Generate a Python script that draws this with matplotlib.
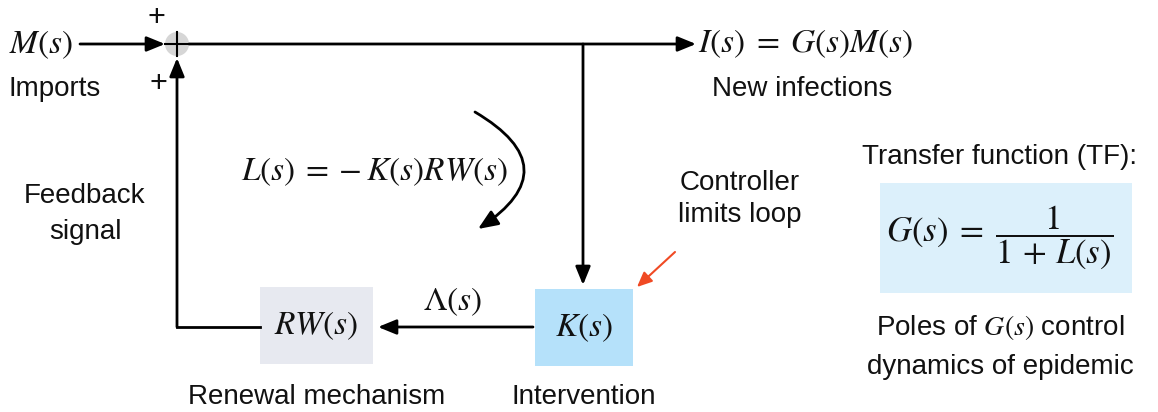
import matplotlib.pyplot as plt
from matplotlib.patches import Rectangle, Circle, FancyArrowPatch

plt.rcParams['font.family'] = ['Liberation Sans', 'DejaVu Sans']
plt.rcParams['mathtext.fontset'] = 'stix'

# labels of the diagram
block_names = ['$RW(s)$', '$K(s)$']
block_captions = ['Renewal mechanism', 'Intervention']
block_colors = ['#e7e9f0', '#b5e1fa']
input_label = '$M(s)$'
output_label = '$I(s)\\;=\\;G(s)M(s)$'
loop_label = '$L(s)\\:=\\:-\\:K(s)RW(s)$'
tf_label = '$G(s)\\;=\\;\\dfrac{1}{1\\,+\\,L(s)}$'

W, H = 1158, 412
fig = plt.figure(figsize=(W / 100, H / 100), dpi=100)
ax = fig.add_axes([0, 0, 1, 1])
ax.set_xlim(0, W)
ax.set_ylim(H, 0)
ax.axis('off')

txt = dict(fontsize=20, color='#111111', ha='center', va='center')
mth = dict(fontsize=24, color='#111111', ha='center', va='center')


def arrow(x0, y0, x1, y1, color='black', lw=2, hw=4.5, hl=11):
    ax.annotate('', xy=(x1, y1), xytext=(x0, y0),
                arrowprops=dict(arrowstyle=f'-|>,head_width={hw / 14},head_length={hl / 14}',
                                color=color, lw=lw, shrinkA=0, shrinkB=0,
                                mutation_scale=14))


# summing junction
cx, cy = 177, 44
ax.add_patch(Circle((cx, cy), 12, facecolor='#d6d6d6', edgecolor='none'))
ax.plot([cx - 12, cx + 12], [cy, cy], color='black', lw=1.5)
ax.plot([cx, cx], [cy - 12, cy + 12], color='black', lw=1.5)
ax.text(156, 18, '+', **dict(txt, fontsize=22))
ax.text(158, 84, '+', **dict(txt, fontsize=22))

# input
ax.text(41, 45, input_label, **mth)
ax.text(55, 89, 'Imports', **txt)
arrow(80, cy, 165, cy)

# forward path to output
arrow(cx + 12, cy, 696, cy)
ax.text(806, 44, output_label, **mth)
ax.text(802, 89, 'New infections', **txt)

# blocks
boxes = [(260, 287, 113, 77), (535, 289, 98, 77)]
for (x, y, w, h), name, cap, col in zip(boxes, block_names, block_captions, block_colors):
    ax.add_patch(Rectangle((x, y), w, h, facecolor=col, edgecolor='none'))
    ax.text(x + w / 2, y + h / 2, name, **mth)
    ax.text(x + w / 2, 397, cap, **txt)

# down to K
arrow(583, cy, 583, 285)

# K -> RW
arrow(533, 327, 378, 327)
ax.text(453, 302, '$\\Lambda(s)$', **mth)

# feedback
ax.plot([260, 177], [327, 327], color='black', lw=2, solid_capstyle='projecting')
arrow(177, 327, 177, 58)
ax.text(85, 196, 'Feedback', **txt)
ax.text(85, 232, 'signal', **txt)

# loop label and curved arrow
ax.text(374, 172, loop_label, **mth)
ax.add_patch(FancyArrowPatch((475, 112), (478, 229),
                             connectionstyle='arc3,rad=-0.8',
                             arrowstyle='-|>,head_width=5,head_length=12',
                             color='black', lw=2, shrinkA=0, shrinkB=0))

# controller note
ax.text(740, 183, 'Controller', **txt)
ax.text(740, 215, 'limits loop', **txt)
arrow(675, 252, 637, 287, color='#f04a24', lw=1.5, hw=4, hl=9)

# transfer function
ax.text(1000, 157, 'Transfer function (TF):', **txt)
ax.add_patch(Rectangle((880, 183), 252, 110, facecolor='#dcf0fb', edgecolor='none'))
ax.text(1000, 238, tf_label, **dict(mth, fontsize=25))
ax.text(1000, 327, 'Poles of $G(s)$ control', **txt)
ax.text(1000, 367, 'dynamics of epidemic', **txt)

fig.savefig('out.png', dpi=100)
